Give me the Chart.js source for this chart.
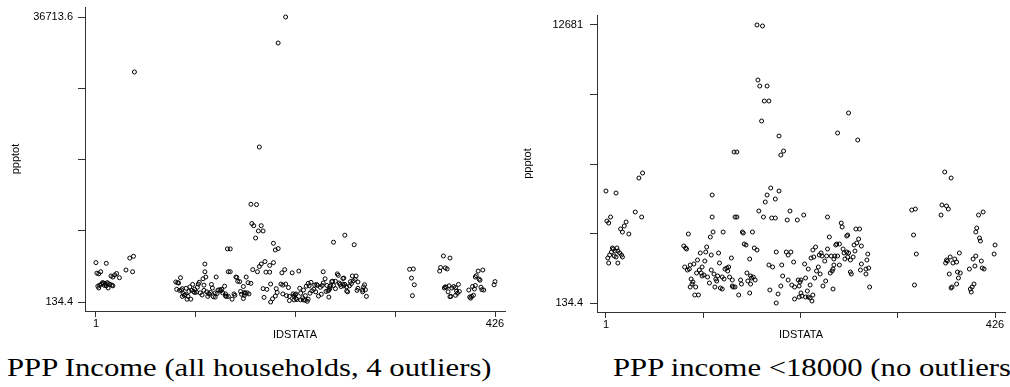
<!DOCTYPE html>
<html>
<head>
<meta charset="utf-8">
<script src="https://cdn.jsdelivr.net/npm/chart.js@4.4.1/dist/chart.umd.min.js"></script>
<style>
  html, body { margin: 0; padding: 0; background: #fff; overflow: hidden; }
  body { width: 1010px; height: 387px; position: relative; }
  .panel { position: absolute; top: 0; height: 345px; }
  #wrapAll { left: 0; width: 510px; }
  #wrapCut { left: 510px; width: 500px; }
  .caption {
    position: absolute; top: 355px; white-space: nowrap; color: #000;
    font-family: "Liberation Serif", "Times New Roman", serif;
    font-size: 26px; line-height: 26px;
    transform: scaleX(1.18); transform-origin: 0 0;
  }
</style>
</head>
<body>
<div class="panel" id="wrapAll"><canvas id="chartAll"></canvas></div>
<div class="panel" id="wrapCut"><canvas id="chartCut"></canvas></div>
<div class="caption" id="capAll" style="left:7px"></div>
<div class="caption" id="capCut" style="left:613px"></div>

<script>
// household id (IDSTATA) and PPP income (ppptot)
const idstata = [
  1, 2, 3, 4, 4, 5, 6, 7, 8, 9, 10, 11, 12, 12, 13, 14, 14, 16, 17, 18, 19, 19, 21, 23, 26, 33, 37, 40, 41, 42,
  86, 87, 88, 89, 90, 91, 92, 93, 93, 94, 95, 96, 97, 98, 99, 100, 101, 102, 103, 104, 105, 106, 106, 108, 109,
  110, 111, 112, 114, 115, 116, 116, 117, 117, 118, 119, 120, 121, 122, 123, 124, 125, 126, 128, 128,
  129, 130, 131, 133, 134, 135, 136, 138, 139, 139, 140, 141, 142, 142, 144, 144, 146, 148, 149, 150,
  151, 152, 154, 155, 156, 158, 158, 159, 159, 160, 161, 162, 163, 164, 166, 166, 167, 168, 169, 171,
  172, 173, 174, 175, 175, 177, 177, 179, 179, 180, 181, 182, 183, 186, 186, 187, 187, 189, 190, 190,
  192, 192, 193, 194, 195, 195, 198, 199, 200, 200, 202, 203, 203, 204, 206, 207, 207, 210, 211, 212,
  212, 213, 214, 214, 215, 217, 218, 219, 219, 221, 222, 222, 224, 224, 225, 226, 227, 227, 228, 229,
  230, 231, 233, 234, 235, 236, 237, 238, 240, 241, 242, 243, 243, 245, 246, 247, 248, 249, 249, 250,
  250, 251, 252, 253, 254, 254, 256, 256, 258, 259, 260, 261, 262, 264, 264, 265, 265, 266, 266, 268,
  268, 269, 271, 272, 273, 274, 275, 276, 277, 278, 279, 280, 280, 285, 285, 286, 287, 288, 289,
  335, 337, 338, 339, 340,
  367, 368, 371, 372, 373, 373, 374, 375, 376, 377, 378, 378, 379, 380, 382, 384, 384, 385, 386, 387, 388,
  398, 399, 400, 401, 402, 403, 404, 405, 405, 406, 408, 409, 410, 411, 412, 413, 414, 425, 426
];
const ppptot = [
  5189, 3835, 2165, 3744, 1939, 2300, 4015, 2436, 2616, 2571, 2255, 2481, 5098, 2210, 2616, 2481, 1939, 2391, 3474, 2300, 3338, 2210, 3609, 3790, 3248, 4241, 5775, 4015, 6001, 29655,
  2706, 1759, 2616, 2571, 1623, 3248, 1668, 1849, 856, 1217, 991, 1082, 1894, 495, 856, 1488, 2075, 495, 1623, 2391, 1488, 1759, 1353, 1398, 2029,
  2436, 2661, 1307, 1037, 3113, 2300, 1623, 5008, 4015, 3338, 1443, 856, 1217, 1127, 1353, 2391, 1939, 811, 1307, 766,
  3338, 1217, 1668, 1714, 1578, 1759, 1307, 2165, 1172, 901, 856, 6949, 4015, 856, 4015, 6949, 495, 1172, 991, 3338,
  3293, 2797, 2752, 1488, 1127, 2120, 585, 1353, 991, 1262, 3338, 1307, 2616, 1172, 2526, 12681, 10198, 4286, 9927, 8348,
  12636, 4015, 9250, 4692, 20028, 9927, 5008, 9250, 1849, 721, 5324, 3970, 1759, 4828, 3970, 2436, 134.4, 540, 7671, 5189,
  6813, 901, 1849, 1353, 6994, 33377, 2436, 3880, 2300, 1172, 4286, 2436, 36713.6, 946, 1984, 856, 315, 3880, 1172, 901,
  405, 1082, 585, 1172, 450, 4105, 1894, 405, 1262, 676, 1668, 405, 946, 360, 2165, 224, 2526, 495, 2210, 1262,
  2661, 1578, 1759, 2300, 1443, 2391, 2255, 901, 2029, 1127, 2255, 4015, 2571, 3113, 1488, 2255, 1578, 1668, 766, 2120,
  1849, 2255, 2752, 2797, 7806, 2255, 2797, 1849, 3744, 3564, 2571, 2391, 2120, 3158, 2436, 3203, 2210, 8709, 2391, 2075,
  1533, 1443, 2210, 2752, 2481, 3474, 2842, 7490, 3022, 3474, 1623, 2706, 1894, 1668, 1443, 2075, 2345, 1714, 856,
  4331, 3203, 946, 4376, 2345,
  4105, 4557, 6046, 1939, 4512, 2075, 2029, 4376, 1443, 2210, 5775, 811, 856, 1939, 2120, 1984, 991, 1533, 1262, 2391, 1488,
  1668, 766, 630, 856, 2120, 991, 1804, 3338, 2255, 3519, 4105, 3067, 2932, 2029, 1714, 4241, 1668, 2345, 2752
];
const xTicks = [1, 107.25, 213.5, 319.75, 426];
const cutoff = 18000;
const captionAll = "PPP Income (all households, 4 outliers)";
const captionCut = "PPP income <18000 (no outliers)";

document.getElementById("capAll").textContent = captionAll;
document.getElementById("capCut").textContent = captionCut;

function makeChart(canvasId, limit, lay) {
  const pts = [];
  for (let i = 0; i < idstata.length; i++) {
    if (ppptot[i] < limit) pts.push({ x: idstata[i], y: ppptot[i] });
  }
  const lo = Math.min(...pts.map(p => p.y));
  const hi = Math.max(...pts.map(p => p.y));
  const span = hi - lo;
  const yStep = span / 4;
  const xPerPx = 425 / lay.xPx;

  return new Chart(document.getElementById(canvasId), {
    type: "scatter",
    data: {
      datasets: [{
        data: pts,
        pointStyle: "circle",
        pointRadius: 2,
        pointBorderWidth: 1,
        pointBorderColor: "#000",
        pointBackgroundColor: "rgba(0,0,0,0)"
      }]
    },
    options: {
      responsive: true,
      maintainAspectRatio: false,
      animation: false,
      events: [],
      layout: { padding: { top: lay.top, right: 3, bottom: 0, left: 0 } },
      plugins: { legend: { display: false }, tooltip: { enabled: false } },
      scales: {
        x: {
          type: "linear",
          min: 1 - lay.xLeftGap * xPerPx,
          max: 426 + 10 * xPerPx,
          afterBuildTicks: (s) => { s.ticks = xTicks.map(v => ({ value: v })); },
          afterFit: (s) => { s.height = lay.xHeight; s.paddingLeft = 0; s.paddingRight = 0; },
          ticks: {
            autoSkip: false, maxRotation: 0, padding: 0, color: "#000",
            font: { family: "'Liberation Sans', Arial, sans-serif", size: 11 },
            callback: (v, i, t) => (i === 0 || i === t.length - 1) ? String(v) : ""
          },
          grid: { drawOnChartArea: false, drawTicks: true, tickLength: 6, tickColor: "#333" },
          border: { display: true, color: "#333", width: 1 },
          title: {
            display: true, text: "IDSTATA", color: "#000",
            font: { family: "'Liberation Sans', Arial, sans-serif", size: 11 },
            padding: { top: 0, bottom: 3 }
          }
        },
        y: {
          type: "linear",
          min: lo - span * 9 / lay.yPx,
          max: hi + span * 10 / lay.yPx,
          afterBuildTicks: (s) => { s.ticks = [0, 1, 2, 3, 4].map(k => ({ value: lo + k * yStep })); },
          afterFit: (s) => { s.width = lay.yWidth; s.paddingTop = 0; s.paddingBottom = 0; },
          ticks: {
            autoSkip: false, padding: lay.yPad, color: "#000",
            font: { family: "'Liberation Sans', Arial, sans-serif", size: 11 },
            callback: (v, i, t) => (i === 0 || i === t.length - 1) ? String(Math.round(v * 10) / 10) : ""
          },
          grid: { drawOnChartArea: false, drawTicks: true, tickLength: 7, tickColor: "#333" },
          border: { display: true, color: "#333", width: 1 },
          title: {
            display: true, text: "ppptot", color: "#000",
            font: { family: "'Liberation Sans', Arial, sans-serif", size: 11 },
            padding: { top: lay.titlePad, bottom: 0 }
          }
        }
      }
    }
  });
}

// all households (outliers included)
makeChart("chartAll", Infinity, { top: 7, xHeight: 34, yWidth: 85, yPad: 5, titlePad: 9, xPx: 401, xLeftGap: 11, yPx: 285 });
// households under the cutoff
makeChart("chartCut", cutoff, { top: 15, xHeight: 33, yWidth: 87, yPad: 7, titlePad: 11, xPx: 391, xLeftGap: 9, yPx: 278 });
</script>
</body>
</html>
